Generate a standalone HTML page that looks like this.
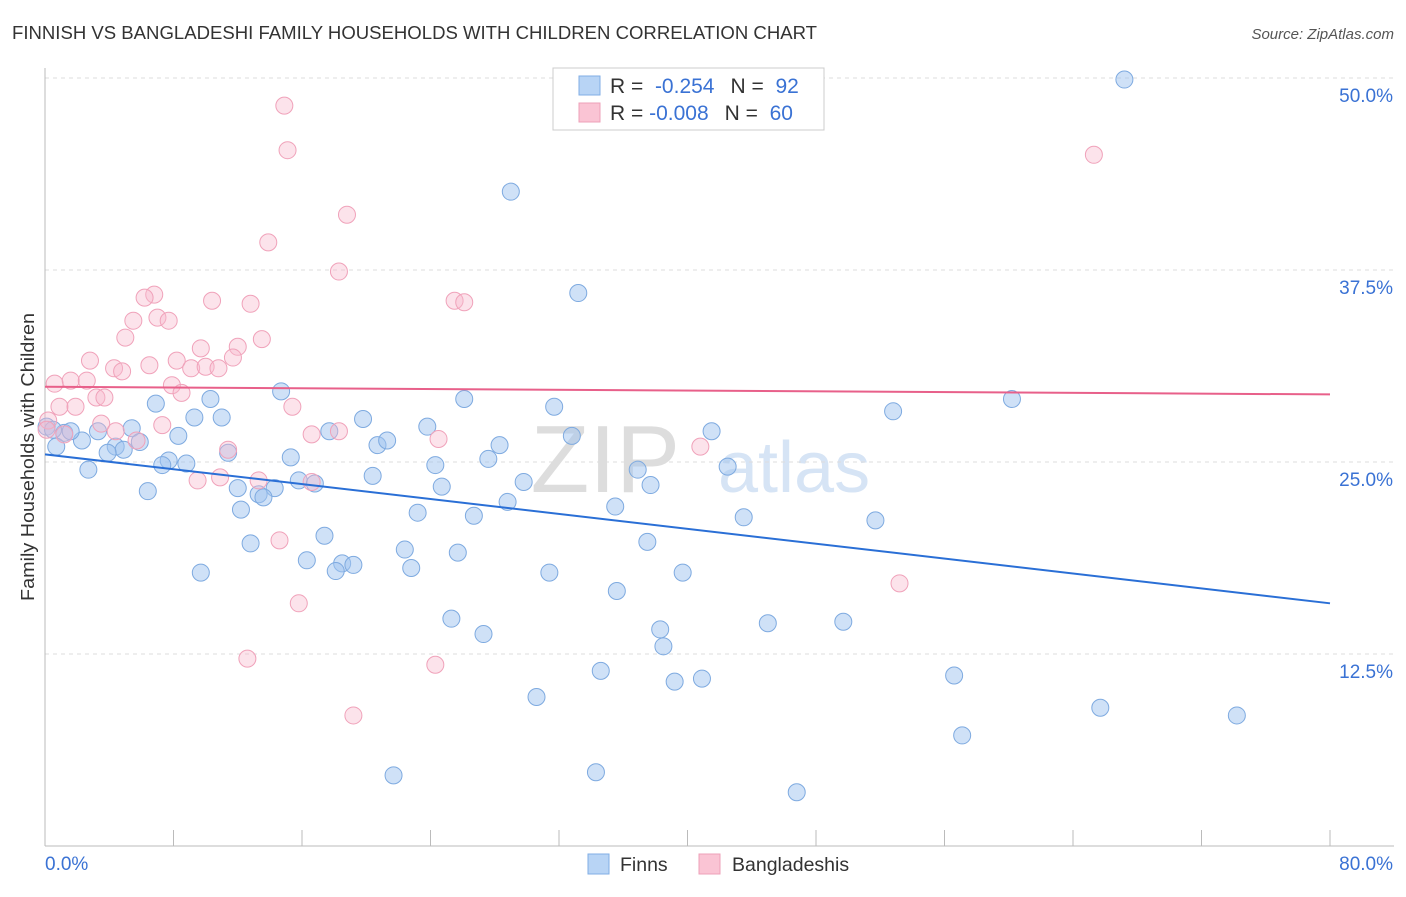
<!DOCTYPE html>
<html><head><meta charset="utf-8"><style>
body{margin:0;background:#fff;font-family:"Liberation Sans",sans-serif;}
svg text{font-family:"Liberation Sans",sans-serif;}
</style></head><body>
<svg id="chart" width="1406" height="892">
<text x="12" y="39" font-size="18" fill="#333" textLength="805" lengthAdjust="spacingAndGlyphs">FINNISH VS BANGLADESHI FAMILY HOUSEHOLDS WITH CHILDREN CORRELATION CHART</text>
<text x="1394" y="39" font-size="15" fill="#555" font-style="italic" text-anchor="end">Source: ZipAtlas.com</text>
<text transform="translate(34,457) rotate(-90)" font-size="18" fill="#333" text-anchor="middle" textLength="288" lengthAdjust="spacingAndGlyphs">Family Households with Children</text>
<text x="680" y="492" font-size="96" fill="#ddd" font-family="Liberation Serif" text-anchor="end">ZIP</text>
<text x="718" y="492" font-size="72" fill="#d6e4f5">atlas</text>
<g id="grid"></g><g id="axes"></g><g id="pts"></g><g id="trend"></g>
<g>
<rect x="553" y="68" width="271" height="62" fill="#fff" stroke="#ccc"/>
<rect x="579" y="76" width="21" height="19" fill="#b8d4f5" stroke="#80aee5"/>
<rect x="579" y="103" width="21" height="19" fill="#fac4d4" stroke="#eea0b8"/>
<text x="610" y="93" font-size="21" fill="#333">R = <tspan fill="#3a72d4">&#160;-0.254</tspan><tspan dx="16">N = </tspan><tspan fill="#3a72d4">&#160;92</tspan></text>
<text x="610" y="120" font-size="21" fill="#333">R = <tspan fill="#3a72d4">-0.008</tspan><tspan dx="16">N = </tspan><tspan fill="#3a72d4">&#160;60</tspan></text>
</g>
<g>
<rect x="588" y="854" width="21" height="20" fill="#b8d4f5" stroke="#80aee5"/>
<text x="620" y="871" font-size="19.5" fill="#333">Finns</text>
<rect x="699" y="854" width="21" height="20" fill="#fac4d4" stroke="#eea0b8"/>
<text x="732" y="871" font-size="19.5" fill="#333">Bangladeshis</text>
</g>
</svg>
<script>
const finnX=[67.2,29.0,33.2,14.7,10.3,6.9,26.1,31.7,52.8,60.2,9.3,11.0,19.8,23.8,32.8,41.5,17.7,3.3,5.4,1.2,0.7,2.3,4.4,4.9,3.9,5.9,8.3,11.4,20.7,21.3,28.3,27.6,24.3,15.3,8.8,7.7,7.3,2.7,20.4,36.9,37.7,42.5,29.8,15.8,16.8,12.0,24.7,14.3,13.3,13.6,6.4,28.8,35.5,23.2,26.7,43.5,51.7,12.2,17.4,12.8,37.5,22.4,25.7,16.3,18.5,19.2,18.1,22.8,31.4,39.7,9.7,35.6,25.3,45.0,49.7,38.3,27.3,38.5,34.6,56.6,39.2,40.9,30.6,65.7,74.2,57.1,21.7,34.3,46.8,0.1,1.6,0.5];
const finnY=[49.9,42.6,36.0,29.6,29.1,28.8,29.1,28.6,28.3,29.1,27.9,27.9,27.8,27.3,26.7,27.0,27.0,27.0,27.2,26.9,26.0,26.4,26.0,25.8,25.6,26.3,26.7,25.6,26.1,26.4,26.1,25.2,24.8,25.3,24.9,25.1,24.8,24.5,24.1,24.5,23.5,24.7,23.7,23.8,23.6,23.3,23.4,23.3,22.9,22.7,23.1,22.4,22.1,21.7,21.5,21.4,21.2,21.9,20.2,19.7,19.8,19.3,19.1,18.6,18.4,18.3,17.9,18.1,17.8,17.8,17.8,16.6,14.8,14.5,14.6,14.1,13.8,13.0,11.4,11.1,10.7,10.9,9.7,9.0,8.5,7.2,4.6,4.8,3.5,27.3,27.0,27.1];
const bangX=[14.9,15.1,65.3,18.8,13.9,18.3,6.8,6.2,10.4,12.8,25.5,26.1,7.0,5.5,7.7,13.5,5.0,9.7,12.0,11.7,2.8,6.5,4.3,4.8,8.2,9.1,10.0,10.8,0.6,1.6,2.6,7.9,8.5,3.2,3.7,0.9,1.9,15.4,3.5,7.3,4.4,1.2,5.7,16.6,18.3,24.5,11.4,40.8,13.3,9.5,10.9,16.6,14.6,15.8,53.2,12.6,24.3,19.2,0.2,0.1];
const bangY=[48.2,45.3,45.0,41.1,39.3,37.4,35.9,35.7,35.5,35.3,35.5,35.4,34.4,34.2,34.2,33.0,33.1,32.4,32.5,31.8,31.6,31.3,31.1,30.9,31.6,31.1,31.2,31.1,30.1,30.3,30.3,30.0,29.5,29.2,29.2,28.6,28.6,28.6,27.5,27.4,27.0,26.8,26.4,26.8,27.0,26.5,25.8,26.0,23.8,23.8,24.0,23.7,19.9,15.8,17.1,12.2,11.8,8.5,27.7,27.1];
const finnTrend=[25.5,15.8];
const bangTrend=[29.9,29.4];
const yTicks=[12.5,25.0,37.5,50.0];
const xTickVals=[0,8,16,24,32,40,48,56,64,72,80];
const NS='http://www.w3.org/2000/svg';
const X0=45,X1=1330,Y0=846,Y50=78;
const sx=v=>X0+(v/80)*(X1-X0);
const sy=v=>Y0-(v/50)*(Y0-Y50);
function mk(tag,attrs,parent){const e=document.createElementNS(NS,tag);for(const k in attrs)e.setAttribute(k,attrs[k]);document.getElementById(parent).appendChild(e);return e;}
yTicks.forEach(t=>{
 const l=mk('line',{x1:X0,x2:1394,y1:sy(t),y2:sy(t),stroke:'#ddd','stroke-dasharray':'4,4'},'grid');
 
 
 const tx=mk('text',{x:1393,y:sy(t)+24,'font-size':19,fill:'#3a72d4','text-anchor':'end'},'grid');
 tx.textContent=t.toFixed(1)+'%';
 
 
});
const ax=mk('line',{x1:X0,x2:1394,y1:Y0,y2:Y0,stroke:'#bbb'},'axes');


const ay=mk('line',{x1:X0,x2:X0,y1:68,y2:Y0,stroke:'#bbb'},'axes');


xTickVals.forEach(t=>{
 const l=mk('line',{x1:sx(t),x2:sx(t),y1:Y0-16,y2:Y0,stroke:'#bbb'},'axes');
 
 
});
[[0,'start','0.0%'],[80,'end','80.0%']].forEach(([v,a,s])=>{
 const tx=mk('text',{x:v==0?45:1393,y:870,'font-size':19,fill:'#3a72d4','text-anchor':a},'axes');
 tx.textContent=s;
 
 
});
finnX.forEach((v,i)=>{
 const c=mk('circle',{cx:sx(v),cy:sy(finnY[i]),r:8.5,fill:'rgba(160,196,240,0.5)',stroke:'#7eaae0','stroke-width':1},'pts');
 
 
});
bangX.forEach((v,i)=>{
 const c=mk('circle',{cx:sx(v),cy:sy(bangY[i]),r:8.5,fill:'rgba(247,185,205,0.4)',stroke:'#f0a2ba','stroke-width':1},'pts');
 
 
});
const t1=mk('line',{x1:sx(0),x2:sx(80),y1:sy(finnTrend[0]),y2:sy(finnTrend[1]),stroke:'#2a6fd6','stroke-width':2},'trend');


const t2=mk('line',{x1:sx(0),x2:sx(80),y1:sy(bangTrend[0]),y2:sy(bangTrend[1]),stroke:'#e8608a','stroke-width':2},'trend');


</script>
</body></html>
